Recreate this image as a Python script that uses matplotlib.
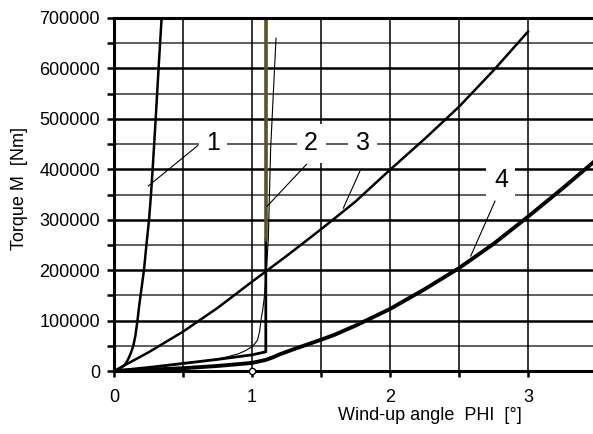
import matplotlib
matplotlib.use("Agg")
import matplotlib.pyplot as plt
import numpy as np

plt.rcParams['font.family'] = ['Liberation Sans', 'DejaVu Sans']

# curve 1 (steep)
x1 = [0, 0.02, 0.05, 0.08, 0.1, 0.12, 0.14, 0.155, 0.17, 0.185, 0.2, 0.217,
      0.235, 0.254, 0.268, 0.28, 0.302, 0.323, 0.345]
y1 = [0, 1500, 6000, 13000, 22000, 34000, 50000, 70000, 100000, 135000, 165000, 200000,
      250000, 300000, 350000, 400000, 500000, 600000, 700000]

# curve 2 (thick, kink at 1.1 then vertical)
x2 = [0, 0.25, 0.5, 0.75, 1.0, 1.1, 1.1]
y2 = [0, 7000, 15000, 23000, 32000, 38000, 260000]
x2_olive = [1.1, 1.1]
y2_olive = [260000, 700000]

# curve 2 thin
x2t = [0, 0.25, 0.5, 0.75, 0.82, 0.9, 0.95, 1.0, 1.02, 1.04, 1.055, 1.065, 1.077, 1.087,
       1.1, 1.118, 1.135, 1.174]
y2t = [0, 6000, 14000, 24000, 28000, 34000, 40000, 48000, 54000, 61500, 78000, 101000,
       120000, 141000, 180000, 260000, 440000, 660000]

# curve 3
x3 = [0, 0.25, 0.5, 0.75, 1.0, 1.25, 1.5, 1.75, 2.0, 2.25, 2.5, 2.75, 3.0]
y3 = [0, 37000, 78000, 125000, 177000, 228000, 281000, 336000, 399000, 460000, 524000, 596000, 673000]

# curve 4
x4 = [0, 0.25, 0.5, 0.75, 1.0, 1.1, 1.15, 1.2, 1.3, 1.4, 1.5, 1.6, 1.75, 2.0, 2.25, 2.5,
      2.75, 3.0, 3.25, 3.5]
y4 = [0, 2500, 5500, 10000, 16000, 22000, 27000, 33000, 43000, 52500, 62000, 72000, 90000,
      123000, 162000, 204000, 252000, 306000, 362000, 420000]

# labels: (text, text pos, leader start, leader end)
labels = ["1", "2", "3", "4"]
label_pos = [(0.717, 452000), (1.428, 452000), (1.804, 452000), (2.804, 378000)]
leader_from = [(0.607, 447000), (1.396, 410000), (1.783, 397000), (2.761, 337000)]
leader_to = [(0.249, 367000), (1.107, 326000), (1.662, 323000), (2.585, 228000)]

fig = plt.figure(figsize=(5.93, 4.34), dpi=100)
ax = fig.add_axes([114/593, 1-371/434, 1-114/593, 353/434])
ax.set_xlim(0, (593-114)/138)
ax.set_ylim(0, 700000)

# grid
for v in np.arange(0, 700001, 100000):
    ax.axhline(v, color="black", lw=1.8, zorder=1)
for v in np.arange(50000, 700000, 100000):
    ax.axhline(v, color="#333333", lw=1.1, zorder=1)
for v in np.arange(0.5, 3.5, 0.5):
    ax.axvline(v, color="black", lw=1.1, zorder=1)

ax.plot(x4, y4, color="black", lw=2.8, zorder=3)
ax.plot(x3, y3, color="black", lw=1.8, zorder=3)
ax.plot(x2, y2, color="black", lw=2.0, zorder=3)
ax.plot(x2t, y2t, color="black", lw=0.8, zorder=3)
ax.plot(x1, y1, color="black", lw=1.8, zorder=3)
ax.plot(x2_olive, y2_olive, color="#5a5322", lw=2.6, zorder=4)

for t, p, a, b in zip(labels, label_pos, leader_from, leader_to):
    ax.plot([a[0], b[0]], [a[1], b[1]], color="black", lw=0.8, zorder=5)
    ax.text(p[0], p[1], t, fontsize=18, ha="center", va="center", zorder=6,
            bbox=dict(boxstyle="square,pad=0.3", fc="white", ec="none"))

ax.plot([1], [0], marker="o", ms=4.5, mfc="white", mec="black", mew=1.0,
        clip_on=False, zorder=7)

for s in ["left", "bottom", "top"]:
    ax.spines[s].set_linewidth(2.2)
    ax.spines[s].set_zorder(5)
ax.spines["right"].set_visible(False)

ax.set_yticks(np.arange(0, 700001, 100000))
ax.set_yticks(np.arange(50000, 700000, 100000), minor=True)
ax.set_yticklabels([str(int(v)) for v in np.arange(0, 700001, 100000)])
ax.set_xticks([0, 1, 2, 3])
ax.set_xticks([0.5, 1.5, 2.5], minor=True)
ax.tick_params(axis="y", which="both", direction="out", length=5, width=1.8, labelsize=13, pad=5)
ax.tick_params(axis="x", which="both", direction="out", length=4, width=1.8, labelsize=13, pad=9)

fig.text(430/593, 1-415/434, "Wind-up angle  PHI  [°]", fontsize=13, ha="center", va="center")
fig.text(20/593, 1-188/434, "Torque M  [Nm]", fontsize=13, ha="center", va="center", rotation=90)

fig.savefig("out.png", dpi=100)
